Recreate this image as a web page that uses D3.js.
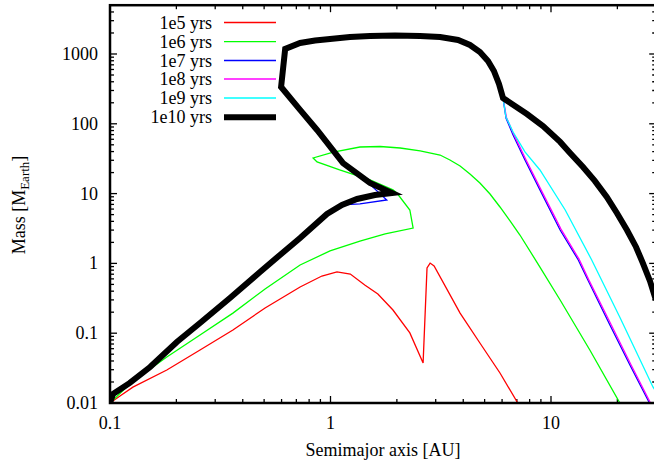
<!DOCTYPE html>
<html><head><meta charset="utf-8">
<script src="https://cdn.jsdelivr.net/npm/d3@7"></script>
<style>body{margin:0;background:#fff}svg{display:block}text{font-family:"Liberation Serif","DejaVu Serif",serif;fill:#000}</style>
</head><body><svg id="c" width="654" height="465"></svg>
<script>
// Shared inner track (lower branch) [a (AU), M (M_Earth)]
const innerLowerA = [0.1,0.1032,0.123,0.152,0.201,0.256,0.350,0.479,0.590,0.728,0.964,1.127];
const innerLowerM = [0.01,0.01345,0.0194,0.0328,0.0748,0.140,0.319,0.754,1.32,2.31,5.10,6.87];
// Shared upper branch and top arc up to the kink near 6 AU
const innerUpperA = [1.51,1.14,0.869,0.728,0.597,0.623,0.728,0.851,0.995,1.225,1.51,1.96,2.55,3.14,3.79,4.29,4.76,5.18,5.51,5.81,6.06];
const innerUpperM = [14.2,27.4,81.5,158,337,1180,1438,1560,1640,1753,1811,1841,1811,1753,1588,1345,1069,794,571,372,234];

// 1e10 yrs
const tipA_1e10 = [1.32,1.59,1.90];
const tipM_1e10 = [8.37,9.55,10.2];
const outerA_1e10 = [6.65,7.78,9.20,11.0,12.2,13.97,15.8,17.9,19.9,22.1,24.3,26.1,28.1,29.9];
const outerM_1e10 = [192,138,93,55,38.2,24.0,15.2,8.94,5.27,3.01,1.72,1.01,0.56,0.30];

// 1e7 yrs (tip extends below black)
const tipA_1e7 = [1.36,1.80,1.54];
const tipM_1e7 = [7.10,8.10,12.8];
const outerA_1e7 = [6.25,6.73,7.62,8.91,11.0,13.3,14.7,18.5,22.8,28.1];
const outerM_1e7 = [121,69.2,30.3,11.3,3.01,1.12,0.578,0.131,0.035,0.0097];
// 1e8 yrs
const outerA_1e8 = [6.28,6.78,7.68,8.98,11.1,13.4,14.8,18.7,23.0,28.4];
const outerM_1e8 = [123,70.5,31,11.6,3.1,1.15,0.59,0.134,0.036,0.0097];
// 1e9 yrs
const outerA_1e9 = [6.25,6.73,7.62,8.91,11.6,15.3,20.6,29.0,30.5];
const outerM_1e9 = [125,76.3,39.5,21.8,5.82,1.12,0.165,0.0170,0.0132];

// 1e6 yrs
const a_1e6 = [0.1,0.123,0.152,0.181,0.256,0.361,0.505,0.728,0.995,1.36,1.77,2.37,2.29,2.00,1.92,1.51,1.10,0.869,0.834,1.03,1.36,1.68,2.07,2.55,3.14,3.48,3.87,4.29,4.76,5.29,5.87,6.52,7.23,8.91,11.0,15.0,20.6];
const m_1e6 = [0.01,0.0187,0.0307,0.0456,0.0942,0.194,0.430,0.948,1.51,2.09,2.64,3.21,5.82,10.2,11.3,15.7,21.8,28.4,32.4,39.4,46.5,47.3,45.0,40.8,35.7,30.3,24.9,19.1,14.2,9.87,6.43,4.05,2.55,0.887,0.299,0.0574,0.0098];

// 1e5 yrs
const a_1e5 = [0.1,0.111,0.127,0.181,0.256,0.361,0.505,0.728,0.914,1.07,1.23,1.43,1.64,1.92,2.29,2.63,2.74,2.83,2.95,3.87,4.76,5.87,7.08];
const m_1e5 = [0.01,0.0126,0.0169,0.0297,0.0574,0.111,0.230,0.459,0.659,0.754,0.704,0.491,0.365,0.215,0.101,0.0374,0.859,1.01,0.918,0.194,0.0724,0.0269,0.0099];

const labels = ["1e5 yrs","1e6 yrs","1e7 yrs","1e8 yrs","1e9 yrs","1e10 yrs"];
const colors = ["#ff0000","#00ff00","#0000ff","#ff00ff","#00ffff","#000000"];
const widths = [1.3,1.3,1.3,1.3,1.3,6];
const xTicks = [0.1,1,10];
const xTickLabels = ["0.1","1","10"];
const yTicks = [0.01,0.1,1,10,100,1000];
const yTickLabels = ["0.01","0.1","1","10","100","1000"];

const zip = (A,M) => A.map((a,i)=>[a,M[i]]);
const inner = (tA,tM) => zip(innerLowerA,innerLowerM).concat(zip(tA,tM), zip(innerUpperA,innerUpperM));
const series = [
  zip(a_1e5,m_1e5),
  zip(a_1e6,m_1e6),
  inner(tipA_1e7,tipM_1e7).concat(zip(outerA_1e7,outerM_1e7)),
  inner(tipA_1e10,tipM_1e10).concat(zip(outerA_1e8,outerM_1e8)),
  inner(tipA_1e10,tipM_1e10).concat(zip(outerA_1e9,outerM_1e9)),
  inner(tipA_1e10,tipM_1e10).concat(zip(outerA_1e10,outerM_1e10))
];

const L=110, R=656.2, T=5.2, B=403;
const x = d3.scaleLog().domain([0.1,30]).range([L,R]);
const y = d3.scaleLog().domain([0.01,5000]).range([B,T]);
const svg = d3.select("#c");

svg.append("defs").append("clipPath").attr("id","clip").append("rect")
  .attr("x",L).attr("y",T).attr("width",R-L).attr("height",B-T);

function minors(lo,hi){const r=[];for(let e=Math.floor(Math.log10(lo));e<=Math.ceil(Math.log10(hi));e++){for(let k=1;k<10;k++){const v=k*Math.pow(10,e);if(v>=lo*0.999&&v<=hi*1.001)r.push({v,major:k===1});}}return r;}
const g = svg.append("g");
minors(0.1,30).forEach(t=>{
  const len=t.major?7:4, px=x(t.v);
  g.append("line").attr("x1",px).attr("x2",px).attr("y1",B).attr("y2",B-len).attr("stroke","#000").attr("stroke-width",1.3);
  g.append("line").attr("x1",px).attr("x2",px).attr("y1",T).attr("y2",T+len).attr("stroke","#000").attr("stroke-width",1.3);
});
minors(0.01,5000).forEach(t=>{
  const len=t.major?7:4, py=y(t.v);
  g.append("line").attr("x1",L).attr("x2",L+len).attr("y1",py).attr("y2",py).attr("stroke","#000").attr("stroke-width",1.3);
  g.append("line").attr("x1",R).attr("x2",R-len).attr("y1",py).attr("y2",py).attr("stroke","#000").attr("stroke-width",1.3);
});

const line = d3.line().x(d=>x(d[0])).y(d=>y(d[1]));
const plot = svg.append("g").attr("clip-path","url(#clip)");
series.forEach((s,i)=>{
  plot.append("path").attr("d",line(s)).attr("fill","none")
    .attr("stroke",colors[i]).attr("stroke-width",widths[i])
    .attr("stroke-linejoin","miter").attr("stroke-miterlimit",4);
});

svg.append("rect").attr("x",L).attr("y",T).attr("width",R-L).attr("height",B-T)
  .attr("fill","none").attr("stroke","#000").attr("stroke-width",2.5);

xTicks.forEach((v,i)=>svg.append("text").attr("x",x(v)).attr("y",429).attr("text-anchor","middle")
  .attr("font-size",18).text(xTickLabels[i]));
yTicks.forEach((v,i)=>svg.append("text").attr("x",98).attr("y",y(v)+6).attr("text-anchor","end")
  .attr("font-size",18).text(yTickLabels[i]));

svg.append("text").attr("x",383).attr("y",456).attr("text-anchor","middle").attr("font-size",18).text("Semimajor axis [AU]");
const yt = svg.append("text").attr("transform","translate(25,205) rotate(-90)").attr("text-anchor","middle").attr("font-size",18);
yt.append("tspan").text("Mass [M");
yt.append("tspan").attr("font-size",13).attr("dy",4).text("Earth");
yt.append("tspan").attr("dy",-4).text("]");

const legY = [22.5,41.7,60.5,79,98,117.3];
labels.forEach((lab,i)=>{
  svg.append("text").attr("x",212).attr("y",legY[i]+6).attr("text-anchor","end").attr("font-size",18).text(lab);
  svg.append("line").attr("x1",224).attr("x2",276).attr("y1",legY[i]).attr("y2",legY[i])
    .attr("stroke",colors[i]).attr("stroke-width",widths[i]);
});
</script></body></html>
